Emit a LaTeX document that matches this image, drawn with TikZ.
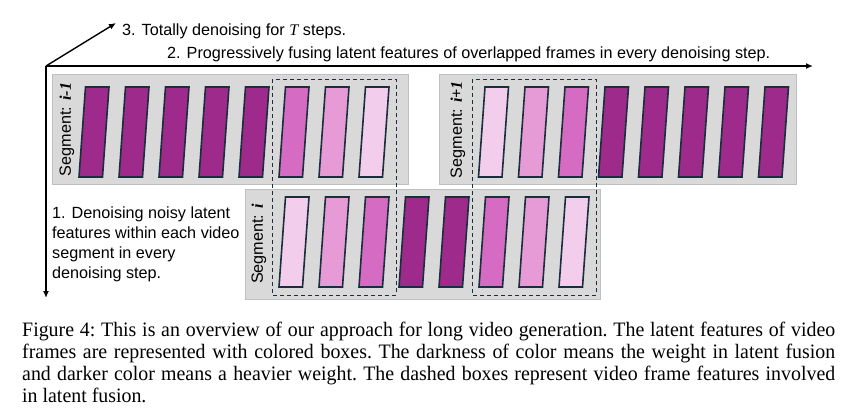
\documentclass[tikz,border=0pt]{standalone}
\usepackage{fontspec}
\setmainfont{Liberation Sans}
\newfontfamily\serifface{Liberation Serif}
\newfontfamily\capface[FakeStretch=0.97]{Liberation Serif}
\usetikzlibrary{arrows.meta}
\definecolor{dk}{HTML}{9E2A8C}
\definecolor{md}{HTML}{D66BC4}
\definecolor{lt}{HTML}{E69AD6}
\definecolor{vl}{HTML}{F2CDEC}
\definecolor{edge}{HTML}{1A2E3C}
\definecolor{segfill}{HTML}{D9D9D9}
\definecolor{segline}{HTML}{BFBFBF}
\tikzset{
  ax/.style={line width=1.4pt,-{Latex[length=7pt,width=6pt]}},
  segbox/.style={fill=segfill,draw=segline,line width=1pt},
  frm/.style={draw=edge,line width=1.6pt,line join=miter},
  dbox/.style={draw=edge,line width=1pt,dash pattern=on 4pt off 3pt},
  lbl/.style={font=\fontsize{16.2}{20}\selectfont,inner sep=0pt},
  seglbl/.style={lbl,rotate=90},
  capt/.style={font=\capface\fontsize{20.5}{22}\selectfont\frenchspacing,inner sep=0pt,text width=813pt,align=justify,anchor=north west}
}
\begin{document}
\begin{tikzpicture}[x=1pt,y=-1pt]
\useasboundingbox (0,0) rectangle (856,418);
% segment boxes
\draw[segbox] (52,74) rectangle (408,184);
\draw[segbox] (439,74) rectangle (796,184);
\draw[segbox] (245,189) rectangle (600,299);
% frames segment i-1
\foreach \c [count=\k from 0] in {dk,dk,dk,dk,dk,md,lt,vl}
  \draw[frm,fill=\c] ({79+40*\k},177) -- ++(23.5,0) -- ++(6.5,-90) -- ++(-23.5,0) -- cycle;
% frames segment i+1
\foreach \c [count=\k from 0] in {vl,lt,md,dk,dk,dk,dk,dk}
  \draw[frm,fill=\c] ({478.5+40*\k},177) -- ++(23.5,0) -- ++(6.5,-90) -- ++(-23.5,0) -- cycle;
% frames segment i
\foreach \c [count=\k from 0] in {vl,lt,md,dk,dk,md,lt,vl}
  \draw[frm,fill=\c] ({279+40*\k},287) -- ++(23.5,0) -- ++(6.5,-90) -- ++(-23.5,0) -- cycle;
% dashed fusion boxes
\draw[dbox] (272,79) rectangle (396,295);
\draw[dbox] (472,79) rectangle (596,295);
% segment labels
\node[seglbl] (l1) at (67,129.5) {Segment: {\serifface\bfseries\itshape i-1}};
\node[seglbl] (l2) at (458,129.5) {Segment: {\serifface\bfseries\itshape i+1}};
\node[seglbl] (l3) at (259,244) {Segment: {\serifface\bfseries\itshape i}};
% axes
\coordinate (O) at (46,66);
\coordinate (xe) at (813,66);
\coordinate (ye) at (46,298);
\coordinate (ze) at (116,23);
\draw[ax] (O) -- (xe);
\draw[ax] (O) -- (ye);
\draw[ax] (O) -- (ze);
% axis texts
\node[lbl,anchor=base west] (t3) at (122,35) {3. Totally denoising for {\serifface\itshape T} steps.};
\node[lbl,anchor=base west] (t2) at (167,58) {2. Progressively fusing latent features of overlapped frames in every denoising step.};
\node[lbl,anchor=north west,align=left] (t1) at (52,207) {1. Denoising noisy latent\\features within each video\\segment in every\\denoising step.};
% caption
\node[capt] (cap) at (22,322) {Figure 4: This is an overview of our approach for long video generation. The latent features of video\linebreak frames are represented with colored boxes. The darkness of color means the weight in latent fusion\linebreak and darker color means a heavier weight. The dashed boxes represent video frame features involved\linebreak in latent fusion.};
\end{tikzpicture}
\end{document}
